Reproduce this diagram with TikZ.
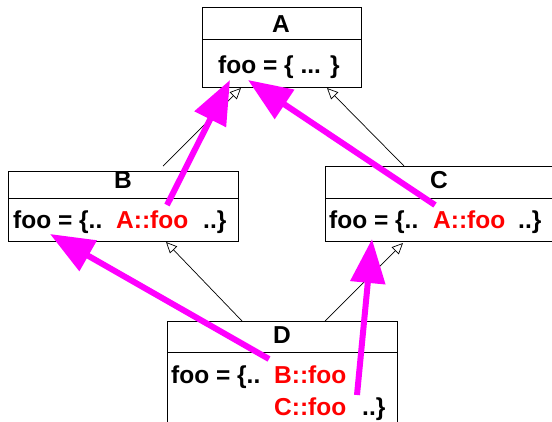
\documentclass[tikz,border=0pt]{standalone}
\usepackage{fontspec}
\setmainfont{Liberation Sans}
\usetikzlibrary{arrows.meta}
\definecolor{mag}{RGB}{255,0,255}
\definecolor{txtred}{RGB}{255,0,0}
\begin{document}
\begin{tikzpicture}[x=1pt,y=-1pt,
  box/.style={draw=black, line width=0.9pt, fill=white, inner sep=0pt, anchor=north west},
  divider/.style={draw=black, line width=0.9pt},
  txt/.style={inner sep=0pt, anchor=base west, font=\fontsize{24.5}{28}\selectfont\bfseries},
  ttl/.style={inner sep=0pt, anchor=base, font=\fontsize{24.5}{28}\selectfont\bfseries},
  redtxt/.style={txt, text=txtred},
  inh/.style={line width=0.7pt, -{Triangle[open, length=11pt, width=10pt]}},
  refarrow/.style={draw=mag, line width=6pt, -{Triangle[length=44pt, width=34pt, fill=mag]}}
]
\useasboundingbox (0,0) rectangle (552,421);
\clip (0,0) rectangle (552,421);

% class boxes
\node[box, minimum width=159pt, minimum height=80pt] (A) at (202,7) {};
\node[box, minimum width=230pt, minimum height=70pt] (B) at (8,171) {};
\node[box, minimum width=240pt, minimum height=75pt] (C) at (325,166) {};
\node[box, minimum width=230pt, minimum height=130pt] (D) at (167,321) {};

% dividers
\draw[divider] (202,39) -- (361,39);
\draw[divider] (8,198) -- (238,198);
\draw[divider] (325,198) -- (565,198);
\draw[divider] (167,352) -- (397,352);

% titles
\node[ttl] (At) at (281,32) {A};
\node[ttl] (Bt) at (123,188) {B};
\node[ttl] (Ct) at (439,188) {C};
\node[ttl] (Dt) at (282,343) {D};

% bodies
\node[txt] (Ab) at (218,73) {foo = \{ ... \}};
\node[txt] (Bb1) at (13,228) {foo = \{..};
\node[redtxt] (Bb2) at (116,228) {A::foo};
\node[txt] (Bb3) at (203,228) {..\}};
\node[txt] (Cb1) at (329,228) {foo = \{..};
\node[redtxt] (Cb2) at (433,228) {A::foo};
\node[txt] (Cb3) at (518,228) {..\}};
\node[txt] (Db1) at (171,383) {foo = \{..};
\node[redtxt] (Db2) at (274,383) {B::foo};
\node[redtxt] (Db3) at (274,415) {C::foo};
\node[txt] (Db4) at (362,415) {..\}};

% inheritance connectors
\coordinate (BtoA) at (163,166);
\coordinate (AfromB) at (241,88);
\coordinate (CtoA) at (404,166);
\coordinate (AfromC) at (327,88);
\coordinate (DtoB) at (242,321);
\coordinate (BfromD) at (166,242);
\coordinate (DtoC) at (325,321);
\coordinate (CfromD) at (403,243);
\draw[inh] (BtoA) -- (AfromB);
\draw[inh] (CtoA) -- (AfromC);
\draw[inh] (DtoB) -- (BfromD);
\draw[inh] (DtoC) -- (CfromD);

% override references
\coordinate (sB) at (167,205);
\coordinate (tB) at (230,80);
\coordinate (sC) at (435,205);
\coordinate (tC) at (248,80);
\coordinate (sDB) at (269,359);
\coordinate (tDB) at (50,234);
\coordinate (sDC) at (357,395);
\coordinate (tDC) at (372,239);
\draw[refarrow] (sB) -- (tB);
\draw[refarrow] (sC) -- (tC);
\draw[refarrow] (sDB) -- (tDB);
\draw[refarrow] (sDC) -- (tDC);
\end{tikzpicture}
\end{document}
